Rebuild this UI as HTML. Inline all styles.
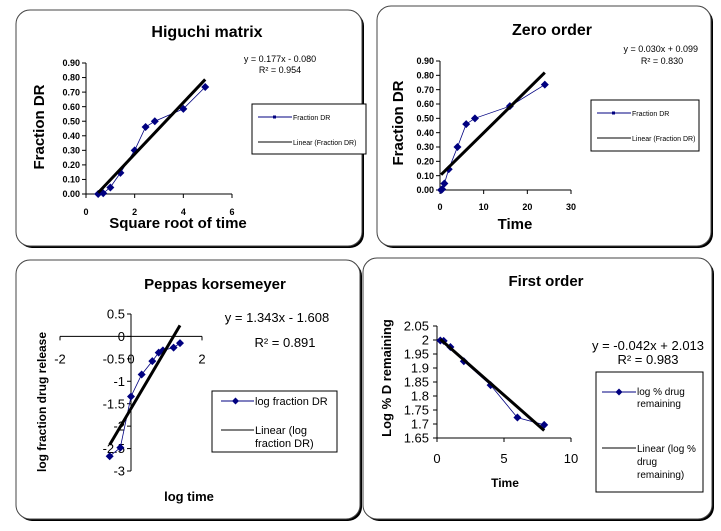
<!DOCTYPE html>
<html><head><meta charset="utf-8">
<style>
html,body{margin:0;padding:0;background:#fff;}
body{width:721px;height:526px;overflow:hidden;font-family:"Liberation Sans",sans-serif;}
svg text{font-family:"Liberation Sans",sans-serif;}
</style></head>
<body>
<svg id="chart" width="721" height="526" viewBox="0 0 721 526" xmlns="http://www.w3.org/2000/svg">
<g>
 <rect x="18" y="12" width="346" height="236" rx="14" fill="#000"/>
 <rect x="16" y="10" width="346" height="236" rx="14" fill="#fff" stroke="#444" stroke-width="1"/>
 <rect x="379" y="8" width="334" height="240" rx="14" fill="#000"/>
 <rect x="377" y="6" width="334" height="240" rx="14" fill="#fff" stroke="#444" stroke-width="1"/>
 <rect x="18" y="262" width="344" height="259" rx="14" fill="#000"/>
 <rect x="16" y="260" width="344" height="259" rx="14" fill="#fff" stroke="#444" stroke-width="1"/>
 <rect x="365" y="260" width="349" height="261" rx="14" fill="#000"/>
 <rect x="363" y="258" width="349" height="261" rx="14" fill="#fff" stroke="#444" stroke-width="1"/>
</g>

<text x="207" y="37" font-size="16" font-weight="bold" text-anchor="middle">Higuchi matrix</text>
<text x="280" y="62" font-size="9" text-anchor="middle">y = 0.177x - 0.080</text>
<text x="280" y="73" font-size="9" text-anchor="middle">R² = 0.954</text>
<text x="178" y="228" font-size="15" font-weight="bold" text-anchor="middle">Square root of time</text>
<text transform="translate(44,127) rotate(-90)" font-size="15" font-weight="bold" text-anchor="middle">Fraction DR</text>

<text x="552" y="35" font-size="16" font-weight="bold" text-anchor="middle">Zero order</text>
<text x="698" y="52" font-size="9" text-anchor="end">y = 0.030x + 0.099</text>
<text x="662" y="64" font-size="9" text-anchor="middle">R² = 0.830</text>
<text x="515" y="229" font-size="15" font-weight="bold" text-anchor="middle">Time</text>
<text transform="translate(403,123) rotate(-90)" font-size="15" font-weight="bold" text-anchor="middle">Fraction DR</text>

<text x="215" y="289" font-size="15" font-weight="bold" text-anchor="middle">Peppas korsemeyer</text>
<text x="277" y="322" font-size="13" text-anchor="middle">y = 1.343x - 1.608</text>
<text x="285" y="347" font-size="13" text-anchor="middle">R² = 0.891</text>
<text x="189" y="501" font-size="13" font-weight="bold" text-anchor="middle">log time</text>
<text transform="translate(46,402) rotate(-90)" font-size="12" font-weight="bold" text-anchor="middle">log fraction drug release</text>

<text x="546" y="286" font-size="15" font-weight="bold" text-anchor="middle">First order</text>
<text x="648" y="350" font-size="13" text-anchor="middle">y = -0.042x + 2.013</text>
<text x="648" y="364" font-size="13" text-anchor="middle">R² = 0.983</text>
<text x="505" y="487" font-size="12" font-weight="bold" text-anchor="middle">Time</text>
<text transform="translate(391,378) rotate(-90)" font-size="13" font-weight="bold" text-anchor="middle">Log  %  D remaining</text>

<g>
 <rect x="252" y="104" width="114" height="50" fill="#fff" stroke="#000"/>
 <line x1="258" y1="117" x2="292" y2="117" stroke="#000080"/>
 <rect x="273" y="115.5" width="3" height="3" fill="#000080"/>
 <text x="293" y="120" font-size="7">Fraction DR</text>
 <line x1="258" y1="142" x2="292" y2="142" stroke="#000"/>
 <text x="293" y="145" font-size="7">Linear (Fraction DR)</text>
</g>
<g>
 <rect x="591" y="100" width="108" height="51" fill="#fff" stroke="#000"/>
 <line x1="597" y1="113" x2="631" y2="113" stroke="#000080"/>
 <rect x="612" y="111.5" width="3" height="3" fill="#000080"/>
 <text x="632" y="116" font-size="7">Fraction DR</text>
 <line x1="597" y1="138" x2="631" y2="138" stroke="#000"/>
 <text x="632" y="141" font-size="7">Linear (Fraction DR)</text>
</g>
<g>
 <rect x="212" y="391" width="125" height="61" fill="#fff" stroke="#000"/>
 <line x1="221" y1="401" x2="254" y2="401" stroke="#000080"/>
 <path d="M235.5,397.5 L239,401 L235.5,404.5 L232,401 Z" fill="#000080"/>
 <text x="255" y="405" font-size="11">log fraction DR</text>
 <line x1="221" y1="430" x2="254" y2="430" stroke="#000"/>
 <text x="255" y="434" font-size="11">Linear (log</text>
 <text x="255" y="447" font-size="11">fraction DR)</text>
</g>
<g>
 <rect x="596" y="372" width="107" height="120" fill="#fff" stroke="#000"/>
 <line x1="602" y1="392" x2="636" y2="392" stroke="#000080"/>
 <path d="M619,388.5 L622.5,392 L619,395.5 L615.5,392 Z" fill="#000080"/>
 <text x="637" y="395" font-size="10">log % drug</text>
 <text x="637" y="407" font-size="10">remaining</text>
 <line x1="602" y1="448" x2="636" y2="448" stroke="#000"/>
 <text x="637" y="452" font-size="10">Linear (log %</text>
 <text x="637" y="465" font-size="10">drug</text>
 <text x="637" y="478" font-size="10">remaining)</text>
</g>
<g id="plots"></g>
</svg>
<script>
// Higuchi
const higuchiX = [0.5, 0.707, 1, 1.414, 2, 2.449, 2.828, 4, 4.899];
const higuchiY = [0, 0.005, 0.045, 0.145, 0.30, 0.46, 0.50, 0.585, 0.735];
const higuchiXTicks = [0, 2, 4, 6];
const higuchiYTicks = ["0.00","0.10","0.20","0.30","0.40","0.50","0.60","0.70","0.80","0.90"];
const higuchiTrend = [0.177, -0.080];
// Zero order
const zeroX = [0.25, 0.5, 1, 2, 4, 6, 8, 16, 24];
const zeroY = [0, 0.005, 0.045, 0.145, 0.30, 0.46, 0.50, 0.585, 0.735];
const zeroXTicks = [0, 10, 20, 30];
const zeroYTicks = ["0.00","0.10","0.20","0.30","0.40","0.50","0.60","0.70","0.80","0.90"];
const zeroTrend = [0.030, 0.099];
// Peppas
const peppasX = [-0.60, -0.30, 0, 0.30, 0.60, 0.78, 0.90, 1.20, 1.38];
const peppasY = [-2.67, -2.48, -1.34, -0.85, -0.55, -0.36, -0.31, -0.25, -0.15];
const peppasXTicks = [-2, 0, 2];
const peppasYTicks = ["0.5","0","-0.5","-1","-1.5","-2","-2.5","-3"];
const peppasTrend = [1.343, -1.608];
// First order
const firstX = [0.25, 0.5, 1, 2, 4, 6, 8];
const firstY = [1.998, 1.997, 1.975, 1.924, 1.839, 1.723, 1.697];
const firstXTicks = [0, 5, 10];
const firstYTicks = ["1.65","1.7","1.75","1.8","1.85","1.9","1.95","2","2.05"];
const firstTrend = [-0.042, 2.013];

const NS = "http://www.w3.org/2000/svg";
const root = document.getElementById("plots");
function mk(tag, attrs, parent){
  const e = document.createElementNS(NS, tag);
  for (const k in attrs) e.setAttribute(k, attrs[k]);
  (parent||root).appendChild(e);
  return e;
}
function scale(d0,d1,p0,p1){ return v => p0 + (v-d0)/(d1-d0)*(p1-p0); }

function drawPlot(cfg){
  const g = mk("g", {});
  
  
  const sx = scale(cfg.xd[0], cfg.xd[1], cfg.xp[0], cfg.xp[1]);
  const sy = scale(cfg.yd[0], cfg.yd[1], cfg.yp[0], cfg.yp[1]);
  const xAxisY = cfg.cross ? sy(0) : cfg.yp[0];
  const yAxisX = cfg.cross ? sx(0) : cfg.xp[0];
  const ax = mk("line", {x1:cfg.xp[0], y1:xAxisY, x2:cfg.xp[1], y2:xAxisY, stroke:"#000", "stroke-width":1}, g);
  
  
  const ay = mk("line", {x1:yAxisX, y1:cfg.yp[0], x2:yAxisX, y2:cfg.yp[1], stroke:"#000", "stroke-width":1}, g);
  
  
  cfg.xt.forEach(v => {
    const x = sx(v);
    mk("line", {x1:x, y1:xAxisY, x2:x, y2:xAxisY+4, stroke:"#000"}, g);
    const t = mk("text", {x:x, y:xAxisY+cfg.xlOff, "font-size":cfg.fs, "text-anchor":"middle", "font-weight":cfg.fw}, g);
    t.textContent = v;
    
    
  });
  cfg.yt.forEach(s => {
    const y = sy(parseFloat(s));
    mk("line", {x1:yAxisX-4, y1:y, x2:yAxisX, y2:y, stroke:"#000"}, g);
    const t = mk("text", {x:yAxisX-cfg.ylOff, y:y+cfg.fs*0.35, "font-size":cfg.fs, "text-anchor":"end", "font-weight":cfg.fw}, g);
    t.textContent = s;
    
    
  });
  const pts = cfg.x.map((v,i) => sx(v).toFixed(1) + "," + sy(cfg.y[i]).toFixed(1)).join(" ");
  const pl = mk("polyline", {points:pts, fill:"none", stroke:"#000080", "stroke-width":0.8}, g);
  
  
  cfg.x.forEach((v,i) => {
    const cx = sx(v), cy = sy(cfg.y[i]), r = cfg.mr;
    const m = mk("path", {d:`M${cx},${cy-r} L${cx+r},${cy} L${cx},${cy+r} L${cx-r},${cy} Z`, fill:"#000080"}, g);
    
    
  });
  const x0 = cfg.x[0], x1 = cfg.x[cfg.x.length-1];
  const tl = mk("line", {x1:sx(x0), y1:sy(cfg.tr[0]*x0+cfg.tr[1]), x2:sx(x1), y2:sy(cfg.tr[0]*x1+cfg.tr[1]), stroke:"#000", "stroke-width":cfg.tw}, g);
  
  
}

drawPlot({name:"higuchi", x:higuchiX, y:higuchiY, xt:higuchiXTicks, yt:higuchiYTicks, tr:higuchiTrend,
  xd:[0,6], xp:[86,232], yd:[0,0.9], yp:[194,63], fs:9, fw:"bold", xlOff:21, ylOff:6, mr:4, tw:3});
drawPlot({name:"zero-order", x:zeroX, y:zeroY, xt:zeroXTicks, yt:zeroYTicks, tr:zeroTrend,
  xd:[0,30], xp:[440,571], yd:[0,0.9], yp:[190,61], fs:9, fw:"bold", xlOff:20, ylOff:6, mr:4, tw:3});
drawPlot({name:"peppas", x:peppasX, y:peppasY, xt:peppasXTicks, yt:peppasYTicks, tr:peppasTrend,
  xd:[-2,2], xp:[60,202], yd:[-3,0.5], yp:[471,314], fs:13, fw:"normal", xlOff:27, ylOff:6, mr:4, tw:3, cross:true});
drawPlot({name:"first-order", x:firstX, y:firstY, xt:firstXTicks, yt:firstYTicks, tr:firstTrend,
  xd:[0,10], xp:[437,571], yd:[1.65,2.05], yp:[438,326], fs:13, fw:"normal", xlOff:25, ylOff:8, mr:4, tw:3});
</script>
</body></html>
